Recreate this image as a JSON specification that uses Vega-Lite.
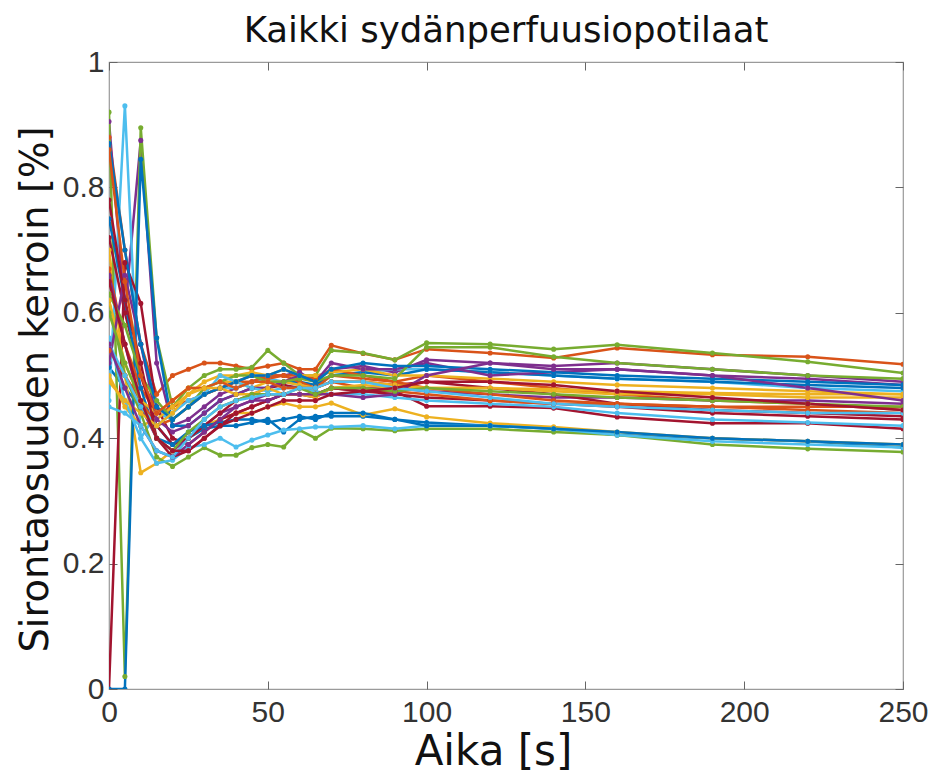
{
  "$schema": "https://vega.github.io/schema/vega-lite/v6.json",
  "autosize": {"type": "none"},
  "width": 794,
  "height": 627,
  "padding": {"left": 109, "top": 62, "right": 28, "bottom": 92},
  "background": "white",
  "title": {
    "text": "Kaikki sydänperfuusiopotilaat",
    "font": "DejaVu Sans",
    "fontSize": 35.5,
    "fontWeight": "normal",
    "color": "#111111",
    "anchor": "middle",
    "offset": -2
  },
  "config": {
    "view": {"stroke": "#9a9a9a", "strokeWidth": 1.2},
    "axis": {
      "grid": false,
      "domain": false,
      "ticks": true,
      "tickColor": "#666666",
      "tickSize": -8,
      "tickWidth": 1,
      "labelFlush": false,
      "labelFont": "Liberation Sans Narrow, Liberation Sans, sans-serif",
      "labelFontSize": 30,
      "labelColor": "#333333",
      "titleFont": "DejaVu Sans",
      "titleFontWeight": "normal",
      "titleColor": "#111111"
    }
  },
  "data": {
    "values": [
      {"p":1,"t":0,"v":0.513},{"p":1,"t":5,"v":0.48},{"p":1,"t":10,"v":0.45},{"p":1,"t":15,"v":0.42},{"p":1,"t":20,"v":0.39},{"p":1,"t":25,"v":0.40},{"p":1,"t":30,"v":0.415},{"p":1,"t":35,"v":0.42},{"p":1,"t":40,"v":0.42},{"p":1,"t":45,"v":0.425},{"p":1,"t":50,"v":0.43},{"p":1,"t":55,"v":0.41},{"p":1,"t":60,"v":0.43},{"p":1,"t":65,"v":0.435},{"p":1,"t":70,"v":0.435},{"p":1,"t":80,"v":0.435},{"p":1,"t":90,"v":0.43},{"p":1,"t":100,"v":0.425},{"p":1,"t":120,"v":0.42},{"p":1,"t":140,"v":0.415},{"p":1,"t":160,"v":0.405},{"p":1,"t":190,"v":0.40},{"p":1,"t":220,"v":0.395},{"p":1,"t":250,"v":0.385},
      {"p":2,"t":0,"v":0.88},{"p":2,"t":5,"v":0.70},{"p":2,"t":10,"v":0.55},{"p":2,"t":15,"v":0.47},{"p":2,"t":20,"v":0.50},{"p":2,"t":25,"v":0.51},{"p":2,"t":30,"v":0.52},{"p":2,"t":35,"v":0.52},{"p":2,"t":40,"v":0.515},{"p":2,"t":45,"v":0.51},{"p":2,"t":50,"v":0.515},{"p":2,"t":55,"v":0.52},{"p":2,"t":60,"v":0.51},{"p":2,"t":65,"v":0.51},{"p":2,"t":70,"v":0.548},{"p":2,"t":80,"v":0.535},{"p":2,"t":90,"v":0.525},{"p":2,"t":100,"v":0.542},{"p":2,"t":120,"v":0.536},{"p":2,"t":140,"v":0.528},{"p":2,"t":160,"v":0.544},{"p":2,"t":190,"v":0.533},{"p":2,"t":220,"v":0.53},{"p":2,"t":250,"v":0.518},
      {"p":3,"t":0,"v":0.70},{"p":3,"t":5,"v":0.50},{"p":3,"t":10,"v":0.345},{"p":3,"t":15,"v":0.36},{"p":3,"t":20,"v":0.38},{"p":3,"t":25,"v":0.40},{"p":3,"t":30,"v":0.42},{"p":3,"t":35,"v":0.43},{"p":3,"t":40,"v":0.44},{"p":3,"t":45,"v":0.44},{"p":3,"t":50,"v":0.45},{"p":3,"t":55,"v":0.456},{"p":3,"t":60,"v":0.45},{"p":3,"t":65,"v":0.45},{"p":3,"t":70,"v":0.456},{"p":3,"t":80,"v":0.437},{"p":3,"t":90,"v":0.447},{"p":3,"t":100,"v":0.434},{"p":3,"t":120,"v":0.424},{"p":3,"t":140,"v":0.418},{"p":3,"t":160,"v":0.41},{"p":3,"t":190,"v":0.40},{"p":3,"t":220,"v":0.395},{"p":3,"t":250,"v":0.39},
      {"p":4,"t":0,"v":0.905},{"p":4,"t":5,"v":0.60},{"p":4,"t":10,"v":0.875},{"p":4,"t":15,"v":0.52},{"p":4,"t":20,"v":0.42},{"p":4,"t":25,"v":0.43},{"p":4,"t":30,"v":0.45},{"p":4,"t":35,"v":0.47},{"p":4,"t":40,"v":0.48},{"p":4,"t":45,"v":0.49},{"p":4,"t":50,"v":0.50},{"p":4,"t":55,"v":0.50},{"p":4,"t":60,"v":0.505},{"p":4,"t":65,"v":0.49},{"p":4,"t":70,"v":0.51},{"p":4,"t":80,"v":0.515},{"p":4,"t":90,"v":0.505},{"p":4,"t":100,"v":0.525},{"p":4,"t":120,"v":0.52},{"p":4,"t":140,"v":0.515},{"p":4,"t":160,"v":0.52},{"p":4,"t":190,"v":0.51},{"p":4,"t":220,"v":0.50},{"p":4,"t":250,"v":0.49},
      {"p":5,"t":0,"v":0.92},{"p":5,"t":5,"v":0.02},{"p":5,"t":10,"v":0.895},{"p":5,"t":15,"v":0.56},{"p":5,"t":20,"v":0.45},{"p":5,"t":25,"v":0.48},{"p":5,"t":30,"v":0.50},{"p":5,"t":35,"v":0.51},{"p":5,"t":40,"v":0.51},{"p":5,"t":45,"v":0.513},{"p":5,"t":50,"v":0.54},{"p":5,"t":55,"v":0.52},{"p":5,"t":60,"v":0.50},{"p":5,"t":65,"v":0.50},{"p":5,"t":70,"v":0.54},{"p":5,"t":80,"v":0.536},{"p":5,"t":90,"v":0.525},{"p":5,"t":100,"v":0.552},{"p":5,"t":120,"v":0.55},{"p":5,"t":140,"v":0.542},{"p":5,"t":160,"v":0.549},{"p":5,"t":190,"v":0.536},{"p":5,"t":220,"v":0.522},{"p":5,"t":250,"v":0.504},
      {"p":6,"t":0,"v":0.46},{"p":6,"t":5,"v":0.93},{"p":6,"t":10,"v":0.40},{"p":6,"t":15,"v":0.44},{"p":6,"t":20,"v":0.43},{"p":6,"t":25,"v":0.45},{"p":6,"t":30,"v":0.47},{"p":6,"t":35,"v":0.48},{"p":6,"t":40,"v":0.48},{"p":6,"t":45,"v":0.49},{"p":6,"t":50,"v":0.495},{"p":6,"t":55,"v":0.49},{"p":6,"t":60,"v":0.485},{"p":6,"t":65,"v":0.48},{"p":6,"t":70,"v":0.50},{"p":6,"t":80,"v":0.505},{"p":6,"t":90,"v":0.51},{"p":6,"t":100,"v":0.51},{"p":6,"t":120,"v":0.505},{"p":6,"t":140,"v":0.50},{"p":6,"t":160,"v":0.495},{"p":6,"t":190,"v":0.49},{"p":6,"t":220,"v":0.48},{"p":6,"t":250,"v":0.475},
      {"p":7,"t":0,"v":0},{"p":7,"t":5,"v":0.68},{"p":7,"t":10,"v":0.615},{"p":7,"t":15,"v":0.45},{"p":7,"t":20,"v":0.40},{"p":7,"t":25,"v":0.39},{"p":7,"t":30,"v":0.41},{"p":7,"t":35,"v":0.43},{"p":7,"t":40,"v":0.44},{"p":7,"t":45,"v":0.45},{"p":7,"t":50,"v":0.46},{"p":7,"t":55,"v":0.47},{"p":7,"t":60,"v":0.47},{"p":7,"t":65,"v":0.465},{"p":7,"t":70,"v":0.48},{"p":7,"t":80,"v":0.475},{"p":7,"t":90,"v":0.475},{"p":7,"t":100,"v":0.451},{"p":7,"t":120,"v":0.451},{"p":7,"t":140,"v":0.448},{"p":7,"t":160,"v":0.434},{"p":7,"t":190,"v":0.424},{"p":7,"t":220,"v":0.424},{"p":7,"t":250,"v":0.415},
      {"p":8,"t":0,"v":0},{"p":8,"t":5,"v":0},{"p":8,"t":10,"v":0.845},{"p":8,"t":15,"v":0.56},{"p":8,"t":20,"v":0.42},{"p":8,"t":25,"v":0.42},{"p":8,"t":30,"v":0.44},{"p":8,"t":35,"v":0.46},{"p":8,"t":40,"v":0.47},{"p":8,"t":45,"v":0.48},{"p":8,"t":50,"v":0.48},{"p":8,"t":55,"v":0.49},{"p":8,"t":60,"v":0.49},{"p":8,"t":65,"v":0.485},{"p":8,"t":70,"v":0.50},{"p":8,"t":80,"v":0.505},{"p":8,"t":90,"v":0.50},{"p":8,"t":100,"v":0.51},{"p":8,"t":120,"v":0.505},{"p":8,"t":140,"v":0.50},{"p":8,"t":160,"v":0.495},{"p":8,"t":190,"v":0.49},{"p":8,"t":220,"v":0.485},{"p":8,"t":250,"v":0.48},
      {"p":9,"t":0,"v":0.67},{"p":9,"t":5,"v":0.55},{"p":9,"t":10,"v":0.48},{"p":9,"t":15,"v":0.44},{"p":9,"t":20,"v":0.45},{"p":9,"t":25,"v":0.46},{"p":9,"t":30,"v":0.47},{"p":9,"t":35,"v":0.48},{"p":9,"t":40,"v":0.49},{"p":9,"t":45,"v":0.49},{"p":9,"t":50,"v":0.50},{"p":9,"t":55,"v":0.50},{"p":9,"t":60,"v":0.50},{"p":9,"t":65,"v":0.495},{"p":9,"t":70,"v":0.51},{"p":9,"t":80,"v":0.50},{"p":9,"t":90,"v":0.49},{"p":9,"t":100,"v":0.50},{"p":9,"t":120,"v":0.49},{"p":9,"t":140,"v":0.48},{"p":9,"t":160,"v":0.47},{"p":9,"t":190,"v":0.46},{"p":9,"t":220,"v":0.455},{"p":9,"t":250,"v":0.445},
      {"p":10,"t":0,"v":0.50},{"p":10,"t":5,"v":0.45},{"p":10,"t":10,"v":0.42},{"p":10,"t":15,"v":0.43},{"p":10,"t":20,"v":0.45},{"p":10,"t":25,"v":0.47},{"p":10,"t":30,"v":0.49},{"p":10,"t":35,"v":0.50},{"p":10,"t":40,"v":0.50},{"p":10,"t":45,"v":0.505},{"p":10,"t":50,"v":0.50},{"p":10,"t":55,"v":0.51},{"p":10,"t":60,"v":0.50},{"p":10,"t":65,"v":0.50},{"p":10,"t":70,"v":0.505},{"p":10,"t":80,"v":0.51},{"p":10,"t":90,"v":0.50},{"p":10,"t":100,"v":0.50},{"p":10,"t":120,"v":0.495},{"p":10,"t":140,"v":0.49},{"p":10,"t":160,"v":0.485},{"p":10,"t":190,"v":0.48},{"p":10,"t":220,"v":0.475},{"p":10,"t":250,"v":0.47},
      {"p":11,"t":0,"v":0.66},{"p":11,"t":5,"v":0.55},{"p":11,"t":10,"v":0.45},{"p":11,"t":15,"v":0.40},{"p":11,"t":20,"v":0.38},{"p":11,"t":25,"v":0.40},{"p":11,"t":30,"v":0.42},{"p":11,"t":35,"v":0.44},{"p":11,"t":40,"v":0.45},{"p":11,"t":45,"v":0.46},{"p":11,"t":50,"v":0.47},{"p":11,"t":55,"v":0.47},{"p":11,"t":60,"v":0.47},{"p":11,"t":65,"v":0.47},{"p":11,"t":70,"v":0.48},{"p":11,"t":80,"v":0.48},{"p":11,"t":90,"v":0.48},{"p":11,"t":100,"v":0.475},{"p":11,"t":120,"v":0.47},{"p":11,"t":140,"v":0.465},{"p":11,"t":160,"v":0.465},{"p":11,"t":190,"v":0.46},{"p":11,"t":220,"v":0.46},{"p":11,"t":250,"v":0.455},
      {"p":12,"t":0,"v":0.62},{"p":12,"t":5,"v":0.50},{"p":12,"t":10,"v":0.44},{"p":12,"t":15,"v":0.37},{"p":12,"t":20,"v":0.355},{"p":12,"t":25,"v":0.37},{"p":12,"t":30,"v":0.385},{"p":12,"t":35,"v":0.373},{"p":12,"t":40,"v":0.373},{"p":12,"t":45,"v":0.385},{"p":12,"t":50,"v":0.39},{"p":12,"t":55,"v":0.386},{"p":12,"t":60,"v":0.413},{"p":12,"t":65,"v":0.40},{"p":12,"t":70,"v":0.416},{"p":12,"t":80,"v":0.415},{"p":12,"t":90,"v":0.412},{"p":12,"t":100,"v":0.415},{"p":12,"t":120,"v":0.415},{"p":12,"t":140,"v":0.41},{"p":12,"t":160,"v":0.405},{"p":12,"t":190,"v":0.39},{"p":12,"t":220,"v":0.383},{"p":12,"t":250,"v":0.378},
      {"p":13,"t":0,"v":0.56},{"p":13,"t":5,"v":0.46},{"p":13,"t":10,"v":0.40},{"p":13,"t":15,"v":0.36},{"p":13,"t":20,"v":0.365},{"p":13,"t":25,"v":0.385},{"p":13,"t":30,"v":0.39},{"p":13,"t":35,"v":0.40},{"p":13,"t":40,"v":0.386},{"p":13,"t":45,"v":0.397},{"p":13,"t":50,"v":0.405},{"p":13,"t":55,"v":0.413},{"p":13,"t":60,"v":0.415},{"p":13,"t":65,"v":0.418},{"p":13,"t":70,"v":0.418},{"p":13,"t":80,"v":0.42},{"p":13,"t":90,"v":0.415},{"p":13,"t":100,"v":0.42},{"p":13,"t":120,"v":0.42},{"p":13,"t":140,"v":0.415},{"p":13,"t":160,"v":0.405},{"p":13,"t":190,"v":0.395},{"p":13,"t":220,"v":0.39},{"p":13,"t":250,"v":0.385},
      {"p":14,"t":0,"v":0.72},{"p":14,"t":5,"v":0.60},{"p":14,"t":10,"v":0.50},{"p":14,"t":15,"v":0.42},{"p":14,"t":20,"v":0.39},{"p":14,"t":25,"v":0.40},{"p":14,"t":30,"v":0.42},{"p":14,"t":35,"v":0.44},{"p":14,"t":40,"v":0.46},{"p":14,"t":45,"v":0.47},{"p":14,"t":50,"v":0.48},{"p":14,"t":55,"v":0.485},{"p":14,"t":60,"v":0.48},{"p":14,"t":65,"v":0.48},{"p":14,"t":70,"v":0.49},{"p":14,"t":80,"v":0.49},{"p":14,"t":90,"v":0.485},{"p":14,"t":100,"v":0.49},{"p":14,"t":120,"v":0.48},{"p":14,"t":140,"v":0.47},{"p":14,"t":160,"v":0.455},{"p":14,"t":190,"v":0.445},{"p":14,"t":220,"v":0.44},{"p":14,"t":250,"v":0.435},
      {"p":15,"t":0,"v":0.75},{"p":15,"t":5,"v":0.62},{"p":15,"t":10,"v":0.48},{"p":15,"t":15,"v":0.40},{"p":15,"t":20,"v":0.39},{"p":15,"t":25,"v":0.41},{"p":15,"t":30,"v":0.42},{"p":15,"t":35,"v":0.425},{"p":15,"t":40,"v":0.43},{"p":15,"t":45,"v":0.43},{"p":15,"t":50,"v":0.425},{"p":15,"t":55,"v":0.43},{"p":15,"t":60,"v":0.435},{"p":15,"t":65,"v":0.43},{"p":15,"t":70,"v":0.44},{"p":15,"t":80,"v":0.44},{"p":15,"t":90,"v":0.43},{"p":15,"t":100,"v":0.42},{"p":15,"t":120,"v":0.42},{"p":15,"t":140,"v":0.415},{"p":15,"t":160,"v":0.41},{"p":15,"t":190,"v":0.40},{"p":15,"t":220,"v":0.395},{"p":15,"t":250,"v":0.39},
      {"p":16,"t":0,"v":0.54},{"p":16,"t":5,"v":0.50},{"p":16,"t":10,"v":0.46},{"p":16,"t":15,"v":0.42},{"p":16,"t":20,"v":0.43},{"p":16,"t":25,"v":0.45},{"p":16,"t":30,"v":0.47},{"p":16,"t":35,"v":0.48},{"p":16,"t":40,"v":0.49},{"p":16,"t":45,"v":0.50},{"p":16,"t":50,"v":0.495},{"p":16,"t":55,"v":0.50},{"p":16,"t":60,"v":0.49},{"p":16,"t":65,"v":0.48},{"p":16,"t":70,"v":0.50},{"p":16,"t":80,"v":0.495},{"p":16,"t":90,"v":0.49},{"p":16,"t":100,"v":0.48},{"p":16,"t":120,"v":0.47},{"p":16,"t":140,"v":0.46},{"p":16,"t":160,"v":0.455},{"p":16,"t":190,"v":0.45},{"p":16,"t":220,"v":0.445},{"p":16,"t":250,"v":0.44},
      {"p":17,"t":0,"v":0.62},{"p":17,"t":5,"v":0.52},{"p":17,"t":10,"v":0.46},{"p":17,"t":15,"v":0.44},{"p":17,"t":20,"v":0.46},{"p":17,"t":25,"v":0.48},{"p":17,"t":30,"v":0.48},{"p":17,"t":35,"v":0.49},{"p":17,"t":40,"v":0.49},{"p":17,"t":45,"v":0.48},{"p":17,"t":50,"v":0.49},{"p":17,"t":55,"v":0.49},{"p":17,"t":60,"v":0.485},{"p":17,"t":65,"v":0.48},{"p":17,"t":70,"v":0.49},{"p":17,"t":80,"v":0.49},{"p":17,"t":90,"v":0.485},{"p":17,"t":100,"v":0.48},{"p":17,"t":120,"v":0.48},{"p":17,"t":140,"v":0.475},{"p":17,"t":160,"v":0.47},{"p":17,"t":190,"v":0.47},{"p":17,"t":220,"v":0.465},{"p":17,"t":250,"v":0.465},
      {"p":18,"t":0,"v":0.52},{"p":18,"t":5,"v":0.66},{"p":18,"t":10,"v":0.55},{"p":18,"t":15,"v":0.43},{"p":18,"t":20,"v":0.41},{"p":18,"t":25,"v":0.42},{"p":18,"t":30,"v":0.44},{"p":18,"t":35,"v":0.46},{"p":18,"t":40,"v":0.47},{"p":18,"t":45,"v":0.48},{"p":18,"t":50,"v":0.48},{"p":18,"t":55,"v":0.49},{"p":18,"t":60,"v":0.50},{"p":18,"t":65,"v":0.49},{"p":18,"t":70,"v":0.52},{"p":18,"t":80,"v":0.51},{"p":18,"t":90,"v":0.51},{"p":18,"t":100,"v":0.52},{"p":18,"t":120,"v":0.50},{"p":18,"t":140,"v":0.505},{"p":18,"t":160,"v":0.51},{"p":18,"t":190,"v":0.50},{"p":18,"t":220,"v":0.495},{"p":18,"t":250,"v":0.485},
      {"p":19,"t":0,"v":0.63},{"p":19,"t":5,"v":0.58},{"p":19,"t":10,"v":0.50},{"p":19,"t":15,"v":0.46},{"p":19,"t":20,"v":0.43},{"p":19,"t":25,"v":0.45},{"p":19,"t":30,"v":0.48},{"p":19,"t":35,"v":0.49},{"p":19,"t":40,"v":0.50},{"p":19,"t":45,"v":0.50},{"p":19,"t":50,"v":0.49},{"p":19,"t":55,"v":0.49},{"p":19,"t":60,"v":0.495},{"p":19,"t":65,"v":0.49},{"p":19,"t":70,"v":0.50},{"p":19,"t":80,"v":0.50},{"p":19,"t":90,"v":0.495},{"p":19,"t":100,"v":0.545},{"p":19,"t":120,"v":0.545},{"p":19,"t":140,"v":0.53},{"p":19,"t":160,"v":0.52},{"p":19,"t":190,"v":0.51},{"p":19,"t":220,"v":0.50},{"p":19,"t":250,"v":0.495},
      {"p":20,"t":0,"v":0.55},{"p":20,"t":5,"v":0.50},{"p":20,"t":10,"v":0.45},{"p":20,"t":15,"v":0.42},{"p":20,"t":20,"v":0.44},{"p":20,"t":25,"v":0.46},{"p":20,"t":30,"v":0.47},{"p":20,"t":35,"v":0.50},{"p":20,"t":40,"v":0.49},{"p":20,"t":45,"v":0.48},{"p":20,"t":50,"v":0.475},{"p":20,"t":55,"v":0.48},{"p":20,"t":60,"v":0.48},{"p":20,"t":65,"v":0.475},{"p":20,"t":70,"v":0.47},{"p":20,"t":80,"v":0.47},{"p":20,"t":90,"v":0.465},{"p":20,"t":100,"v":0.46},{"p":20,"t":120,"v":0.455},{"p":20,"t":140,"v":0.45},{"p":20,"t":160,"v":0.44},{"p":20,"t":190,"v":0.43},{"p":20,"t":220,"v":0.425},{"p":20,"t":250,"v":0.42},
      {"p":21,"t":0,"v":0.78},{"p":21,"t":5,"v":0.62},{"p":21,"t":10,"v":0.52},{"p":21,"t":15,"v":0.40},{"p":21,"t":20,"v":0.37},{"p":21,"t":25,"v":0.38},{"p":21,"t":30,"v":0.40},{"p":21,"t":35,"v":0.42},{"p":21,"t":40,"v":0.44},{"p":21,"t":45,"v":0.45},{"p":21,"t":50,"v":0.46},{"p":21,"t":55,"v":0.47},{"p":21,"t":60,"v":0.47},{"p":21,"t":65,"v":0.47},{"p":21,"t":70,"v":0.48},{"p":21,"t":80,"v":0.475},{"p":21,"t":90,"v":0.47},{"p":21,"t":100,"v":0.465},{"p":21,"t":120,"v":0.46},{"p":21,"t":140,"v":0.455},{"p":21,"t":160,"v":0.45},{"p":21,"t":190,"v":0.44},{"p":21,"t":220,"v":0.435},{"p":21,"t":250,"v":0.43},
      {"p":22,"t":0,"v":0.87},{"p":22,"t":5,"v":0.70},{"p":22,"t":10,"v":0.55},{"p":22,"t":15,"v":0.45},{"p":22,"t":20,"v":0.43},{"p":22,"t":25,"v":0.45},{"p":22,"t":30,"v":0.47},{"p":22,"t":35,"v":0.48},{"p":22,"t":40,"v":0.49},{"p":22,"t":45,"v":0.50},{"p":22,"t":50,"v":0.50},{"p":22,"t":55,"v":0.51},{"p":22,"t":60,"v":0.50},{"p":22,"t":65,"v":0.49},{"p":22,"t":70,"v":0.51},{"p":22,"t":80,"v":0.52},{"p":22,"t":90,"v":0.515},{"p":22,"t":100,"v":0.515},{"p":22,"t":120,"v":0.51},{"p":22,"t":140,"v":0.505},{"p":22,"t":160,"v":0.50},{"p":22,"t":190,"v":0.495},{"p":22,"t":220,"v":0.49},{"p":22,"t":250,"v":0.485},
      {"p":23,"t":0,"v":0.86},{"p":23,"t":5,"v":0.65},{"p":23,"t":10,"v":0.50},{"p":23,"t":15,"v":0.44},{"p":23,"t":20,"v":0.46},{"p":23,"t":25,"v":0.48},{"p":23,"t":30,"v":0.48},{"p":23,"t":35,"v":0.49},{"p":23,"t":40,"v":0.48},{"p":23,"t":45,"v":0.49},{"p":23,"t":50,"v":0.49},{"p":23,"t":55,"v":0.48},{"p":23,"t":60,"v":0.48},{"p":23,"t":65,"v":0.48},{"p":23,"t":70,"v":0.49},{"p":23,"t":80,"v":0.48},{"p":23,"t":90,"v":0.475},{"p":23,"t":100,"v":0.47},{"p":23,"t":120,"v":0.46},{"p":23,"t":140,"v":0.455},{"p":23,"t":160,"v":0.455},{"p":23,"t":190,"v":0.45},{"p":23,"t":220,"v":0.45},{"p":23,"t":250,"v":0.45},
      {"p":24,"t":0,"v":0.49},{"p":24,"t":5,"v":0.46},{"p":24,"t":10,"v":0.44},{"p":24,"t":15,"v":0.42},{"p":24,"t":20,"v":0.44},{"p":24,"t":25,"v":0.47},{"p":24,"t":30,"v":0.48},{"p":24,"t":35,"v":0.48},{"p":24,"t":40,"v":0.47},{"p":24,"t":45,"v":0.47},{"p":24,"t":50,"v":0.48},{"p":24,"t":55,"v":0.47},{"p":24,"t":60,"v":0.47},{"p":24,"t":65,"v":0.465},{"p":24,"t":70,"v":0.48},{"p":24,"t":80,"v":0.485},{"p":24,"t":90,"v":0.48},{"p":24,"t":100,"v":0.48},{"p":24,"t":120,"v":0.48},{"p":24,"t":140,"v":0.478},{"p":24,"t":160,"v":0.475},{"p":24,"t":190,"v":0.472},{"p":24,"t":220,"v":0.47},{"p":24,"t":250,"v":0.47},
      {"p":25,"t":0,"v":0.55},{"p":25,"t":5,"v":0.48},{"p":25,"t":10,"v":0.42},{"p":25,"t":15,"v":0.38},{"p":25,"t":20,"v":0.37},{"p":25,"t":25,"v":0.39},{"p":25,"t":30,"v":0.41},{"p":25,"t":35,"v":0.43},{"p":25,"t":40,"v":0.45},{"p":25,"t":45,"v":0.46},{"p":25,"t":50,"v":0.46},{"p":25,"t":55,"v":0.47},{"p":25,"t":60,"v":0.47},{"p":25,"t":65,"v":0.47},{"p":25,"t":70,"v":0.47},{"p":25,"t":80,"v":0.465},{"p":25,"t":90,"v":0.47},{"p":25,"t":100,"v":0.50},{"p":25,"t":120,"v":0.52},{"p":25,"t":140,"v":0.51},{"p":25,"t":160,"v":0.51},{"p":25,"t":190,"v":0.50},{"p":25,"t":220,"v":0.48},{"p":25,"t":250,"v":0.46},
      {"p":26,"t":0,"v":0.60},{"p":26,"t":5,"v":0.52},{"p":26,"t":10,"v":0.46},{"p":26,"t":15,"v":0.40},{"p":26,"t":20,"v":0.38},{"p":26,"t":25,"v":0.41},{"p":26,"t":30,"v":0.43},{"p":26,"t":35,"v":0.45},{"p":26,"t":40,"v":0.46},{"p":26,"t":45,"v":0.47},{"p":26,"t":50,"v":0.47},{"p":26,"t":55,"v":0.47},{"p":26,"t":60,"v":0.48},{"p":26,"t":65,"v":0.47},{"p":26,"t":70,"v":0.48},{"p":26,"t":80,"v":0.48},{"p":26,"t":90,"v":0.475},{"p":26,"t":100,"v":0.48},{"p":26,"t":120,"v":0.475},{"p":26,"t":140,"v":0.47},{"p":26,"t":160,"v":0.465},{"p":26,"t":190,"v":0.46},{"p":26,"t":220,"v":0.455},{"p":26,"t":250,"v":0.45},
      {"p":27,"t":0,"v":0.45},{"p":27,"t":5,"v":0.44},{"p":27,"t":10,"v":0.42},{"p":27,"t":15,"v":0.38},{"p":27,"t":20,"v":0.37},{"p":27,"t":25,"v":0.40},{"p":27,"t":30,"v":0.43},{"p":27,"t":35,"v":0.45},{"p":27,"t":40,"v":0.46},{"p":27,"t":45,"v":0.465},{"p":27,"t":50,"v":0.47},{"p":27,"t":55,"v":0.47},{"p":27,"t":60,"v":0.48},{"p":27,"t":65,"v":0.48},{"p":27,"t":70,"v":0.49},{"p":27,"t":80,"v":0.49},{"p":27,"t":90,"v":0.48},{"p":27,"t":100,"v":0.475},{"p":27,"t":120,"v":0.465},{"p":27,"t":140,"v":0.455},{"p":27,"t":160,"v":0.45},{"p":27,"t":190,"v":0.445},{"p":27,"t":220,"v":0.44},{"p":27,"t":250,"v":0.44},
      {"p":28,"t":0,"v":0.65},{"p":28,"t":5,"v":0.55},{"p":28,"t":10,"v":0.46},{"p":28,"t":15,"v":0.40},{"p":28,"t":20,"v":0.38},{"p":28,"t":25,"v":0.38},{"p":28,"t":30,"v":0.40},{"p":28,"t":35,"v":0.42},{"p":28,"t":40,"v":0.43},{"p":28,"t":45,"v":0.44},{"p":28,"t":50,"v":0.45},{"p":28,"t":55,"v":0.46},{"p":28,"t":60,"v":0.46},{"p":28,"t":65,"v":0.46},{"p":28,"t":70,"v":0.47},{"p":28,"t":80,"v":0.475},{"p":28,"t":90,"v":0.48},{"p":28,"t":100,"v":0.49},{"p":28,"t":120,"v":0.49},{"p":28,"t":140,"v":0.485},{"p":28,"t":160,"v":0.475},{"p":28,"t":190,"v":0.465},{"p":28,"t":220,"v":0.455},{"p":28,"t":250,"v":0.445}
    ]
  },
  "layer": [
    {
      "mark": {"type": "line", "strokeWidth": 2.5, "clip": true, "point": {"filled": true, "size": 26}},
      "encoding": {
        "x": {
          "field": "t", "type": "quantitative",
          "scale": {"domain": [0, 250], "nice": false, "zero": false},
          "axis": {"title": "Aika [s]", "values": [0, 50, 100, 150, 200, 250], "titleFontSize": 42, "labelPadding": 16, "titlePadding": 4, "titleX": 384}
        },
        "y": {
          "field": "v", "type": "quantitative",
          "scale": {"domain": [0, 1], "nice": false},
          "axis": {"title": "Sirontaosuuden kerroin [%]", "values": [0, 0.2, 0.4, 0.6, 0.8, 1], "format": "~g", "titleFontSize": 38.5, "labelPadding": 13, "titlePadding": 7, "titleY": 327}
        },
        "color": {
          "field": "p", "type": "nominal", "legend": null,
          "scale": {
            "domain": [1,2,3,4,5,6,7,8,9,10,11,12,13,14,15,16,17,18,19,20,21,22,23,24,25,26,27,28],
            "range": ["#0072BD","#D95319","#EDB120","#7E2F8E","#77AC30","#4DBEEE","#A2142F",
                      "#0072BD","#D95319","#EDB120","#7E2F8E","#77AC30","#4DBEEE","#A2142F",
                      "#0072BD","#D95319","#EDB120","#7E2F8E","#77AC30","#4DBEEE","#A2142F",
                      "#0072BD","#D95319","#EDB120","#7E2F8E","#77AC30","#4DBEEE","#A2142F"]
          }
        }
      }
    },
    {
      "mark": {"type": "point", "opacity": 0},
      "encoding": {
        "x": {"field": "t", "type": "quantitative", "axis": {"orient": "top", "title": null, "labels": false, "values": [0, 50, 100, 150, 200, 250]}},
        "y": {"field": "v", "type": "quantitative", "axis": {"orient": "right", "title": null, "labels": false, "values": [0, 0.2, 0.4, 0.6, 0.8, 1]}}
      }
    }
  ],
  "resolve": {"axis": {"x": "independent", "y": "independent"}}
}
